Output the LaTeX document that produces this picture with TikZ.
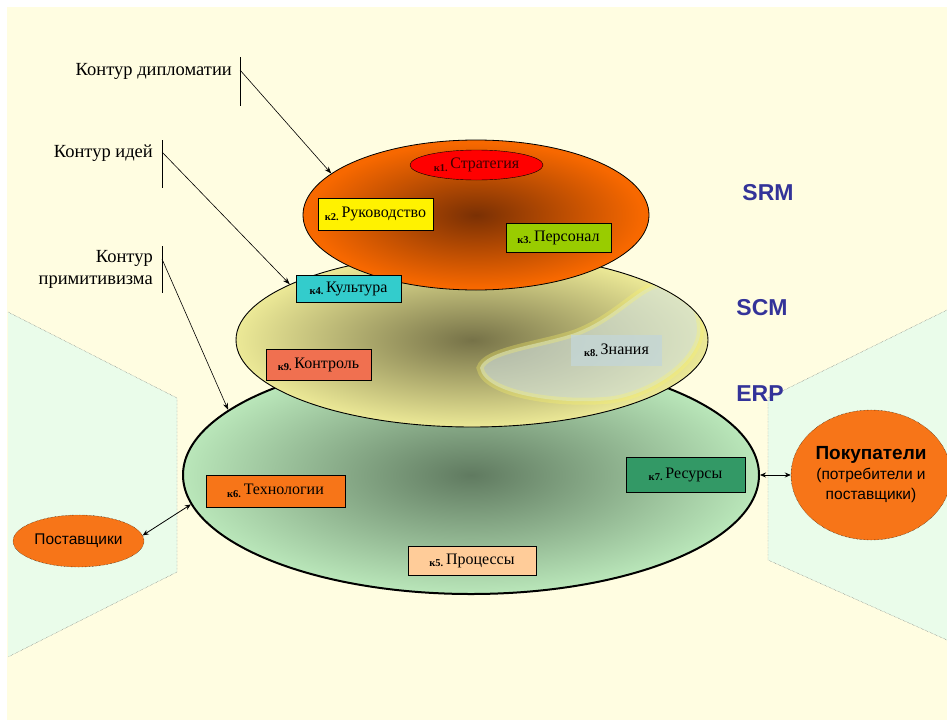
\documentclass[tikz,border=0pt]{standalone}
\usepackage{fontspec}
\setmainfont{Liberation Serif}
\newfontfamily\sansf{Liberation Sans}
\usetikzlibrary{positioning,arrows.meta,shapes.geometric}

\definecolor{paper}{RGB}{255,253,225}
\definecolor{sidegreen}{RGB}{234,252,234}
\definecolor{partyorange}{RGB}{247,117,24}
\definecolor{sysblue}{RGB}{51,51,153}
\definecolor{srmrim}{RGB}{247,104,0}
\definecolor{srmcore}{RGB}{122,48,4}
\definecolor{scmrim}{RGB}{250,247,160}
\definecolor{scmcore}{RGB}{118,114,72}
\definecolor{erprim}{RGB}{200,248,200}
\definecolor{erpcore}{RGB}{96,122,96}
\definecolor{blobcol}{RGB}{210,226,226}
\pgfdeclareradialshading{srmshade}{\pgfpoint{0bp}{0bp}}{color(0bp)=(srmcore); color(24bp)=(srmrim); color(50bp)=(srmrim)}
\pgfdeclareradialshading{scmshade}{\pgfpoint{0bp}{0bp}}{color(0bp)=(scmcore); color(28bp)=(scmrim); color(50bp)=(scmrim)}
\pgfdeclareradialshading{erpshade}{\pgfpoint{0bp}{0bp}}{color(0bp)=(erpcore); color(29bp)=(erprim); color(50bp)=(erprim)}
\newcommand*{\kn}[2]{{\bfseries\fontsize{10.5}{10}\selectfont к#1.}\,\raisebox{2.5pt}{#2}}

\tikzset{
  note/.style={font=\fontsize{18.5}{22}\selectfont, inner sep=0pt},
  kbox/.style={draw, line width=.6pt, inner sep=0pt, font=\fontsize{16}{18}\selectfont},
  sysname/.style={font=\sansf\bfseries\fontsize{23}{24}\selectfont, text=sysblue},
  party/.style={ellipse, draw, densely dotted, fill=partyorange, inner sep=0pt},
  link/.style={line width=.6pt, -{Stealth[length=7pt,width=5pt]}},
  both/.style={line width=.8pt, {Stealth[length=6pt,width=5pt]}-{Stealth[length=6pt,width=5pt]}}
}

\begin{document}
\begin{tikzpicture}[x=1pt,y=-1pt]
\useasboundingbox (0,0) rectangle (947,720);
\fill[white] (0,0) rectangle (947,720);
\fill[paper] (7,7) rectangle (947,720);
% Side areas
\fill[sidegreen] (8,312) -- (177,398) -- (177,572) -- (8,657) -- cycle;
\draw[densely dotted,gray!70!black] (8,312) -- (177,398) -- (177,572) -- (8,657);
\fill[sidegreen] (947,310) -- (768,398) -- (768,560) -- (947,640) -- cycle;
\draw[densely dotted,gray!70!black] (947,310) -- (768,398) -- (768,560) -- (947,640);
% The three contours
\node[ellipse, draw, line width=2pt, shading=erpshade, minimum width=576pt, minimum height=238pt, inner sep=0pt] (erp) at (471,475) {};
\node[ellipse, draw, line width=.9pt, shading=scmshade, minimum width=472pt, minimum height=174pt, inner sep=0pt] (scm) at (472,340) {};
\begin{scope}
\clip (472,340) ellipse [x radius=235, y radius=86];
\fill[blobcol, fill opacity=.6, draw=yellow!60, draw opacity=.3, line width=7pt]
  (480,368) .. controls (485,350) and (540,345) .. (575,333)
  .. controls (615,318) and (635,290) .. (660,283)
  .. controls (690,280) and (703,315) .. (700,335)
  .. controls (695,365) and (650,395) .. (610,400)
  .. controls (560,405) and (485,395) .. (480,368) -- cycle;
\end{scope}
\node[ellipse, draw, line width=.8pt, shading=srmshade, minimum width=346pt, minimum height=150pt, inner sep=0pt] (srm) at (476,215) {};
% Elements
\node[ellipse, draw, fill=red, minimum width=133pt, minimum height=30pt, inner sep=0pt, text=red!25!black, font=\fontsize{16}{18}\selectfont] (k1) at (476.5,165) {\kn{1}{Стратегия}};
\node[kbox, fill=yellow, minimum width=115pt, minimum height=32pt] (k2) at (375.5,214) {\kn{2}{Руководство}};
\node[kbox, fill={rgb,255:red,153;green,204;blue,0}, minimum width=105pt, minimum height=29pt] (k3) at (558.5,237.5) {\kn{3}{Персонал}};
\node[kbox, fill={rgb,255:red,51;green,204;blue,204}, minimum width=105pt, minimum height=27pt] (k4) at (348.5,288.5) {\kn{4}{Культура}};
\node[kbox, fill={rgb,255:red,240;green,112;blue,80}, minimum width=105pt, minimum height=31pt] (k9) at (318.5,364.5) {\kn{9}{Контроль}};
\node[kbox, draw=none, fill={rgb,255:red,196;green,214;blue,214}, fill opacity=.8, text opacity=1, minimum width=91pt, minimum height=31pt] (k8) at (616.5,350.5) {\kn{8}{Знания}};
\node[kbox, fill=partyorange, minimum width=139pt, minimum height=32pt] (k6) at (275.5,491) {\kn{6}{Технологии}};
\node[kbox, fill={rgb,255:red,51;green,153;blue,102}, minimum width=119pt, minimum height=35pt] (k7) at (685.5,474.5) {\kn{7}{Ресурсы}};
\node[kbox, fill={rgb,255:red,255;green,204;blue,153}, minimum width=128pt, minimum height=29pt] (k5) at (472,560.5) {\kn{5}{Процессы}};
% System names
\node[sysname] (srmname) at (768,193) {SRM};
\node[sysname] (scmname) at (762,308) {SCM};
\node[sysname] (erpname) at (760,394) {ERP};
% Partners
\node[party, minimum width=131pt, minimum height=52pt, font=\sansf\fontsize{15.5}{18}\selectfont] (post) at (78.5,541) {Поставщики};
\node[party, minimum width=160pt, minimum height=130pt, align=center, font=\sansf\fontsize{15.5}{20}\selectfont] (buy) at (871,475) {{\bfseries\fontsize{19}{20}\selectfont Покупатели}\\(потребители и\\поставщики)};
\draw[both] (post.5) -- (erp.186.5);
\draw[both] (erp.0) -- (buy.180);
% Contour labels
\node[note, anchor=east] (ldip) at (232,71) {Контур дипломатии};
\node[note, anchor=east] (lidea) at (153,153) {Контур идей};
\node[note, anchor=east, align=right] (lprim) at (153,269) {Контур\\примитивизма};
\draw[line width=.8pt] (240,57) -- (240,106);
\draw[line width=.8pt] (162,140) -- (162,188);
\draw[line width=.8pt] (162,246) -- (162,293);
\coordinate (tdip) at (240,70);
\coordinate (tidea) at (162,152);
\coordinate (tprim) at (162,259);
\draw[link] (tdip) -- (srm.164);
\draw[link] (tidea) -- (scm.163);
\draw[link] (tprim) -- (erp.165);
\end{tikzpicture}
\end{document}
